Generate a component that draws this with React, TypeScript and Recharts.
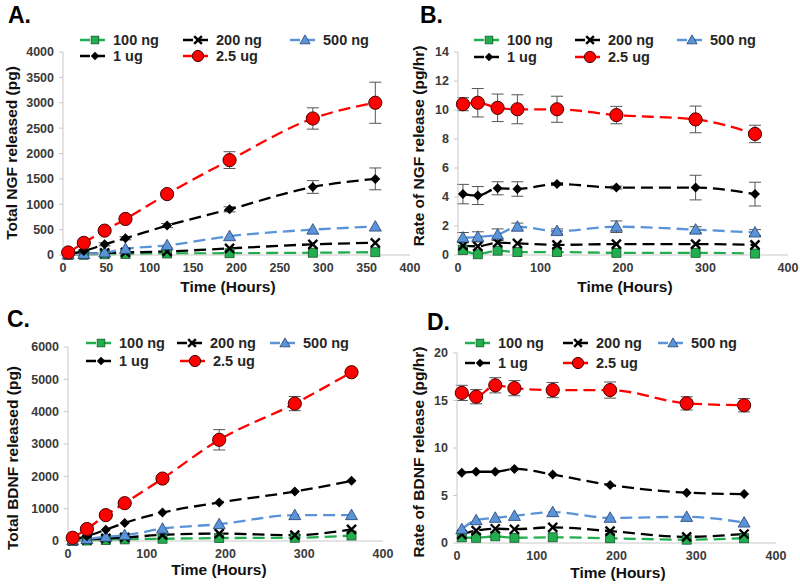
import React from 'react';
import { LineChart, Line, XAxis, YAxis, ErrorBar, Legend } from 'recharts';

// ---------- data ----------
const hours = [6, 24, 48, 72, 120, 192, 288, 360];
const seriesNames = ['100 ng', '200 ng', '500 ng', '1 ug', '2.5 ug'];

// A. Total NGF released (pg)
const ngfTotal100 = [5, 5, 15, 20, 30, 35, 45, 55];
const ngfTotal200 = [10, 20, 40, 50, 70, 130, 210, 240];
const ngfTotal500 = [10, 20, 50, 120, 190, 370, 500, 560];
const ngfTotal1ug = [20, 80, 210, 330, 580, 900, 1340, 1500];
const ngfTotal25ug = [50, 240, 480, 710, 1200, 1870, 2690, 3000];
const ngfTotal1ugErr = [10, 20, 30, 30, 40, 50, 125, 215];
const ngfTotal25ugErr = [20, 30, 40, 50, 60, 165, 210, 405];

// B. Rate of NGF release (pg/hr)
const ngfRate100 = [0.35, 0.05, 0.3, 0.2, 0.2, 0.15, 0.15, 0.1];
const ngfRate200 = [0.65, 0.6, 0.85, 0.8, 0.7, 0.75, 0.75, 0.7];
const ngfRate500 = [1.2, 1.25, 1.4, 1.95, 1.65, 1.95, 1.75, 1.55];
const ngfRate1ug = [4.2, 4.1, 4.6, 4.55, 4.9, 4.65, 4.65, 4.2];
const ngfRate25ug = [10.4, 10.5, 10.15, 10.05, 10.05, 9.65, 9.35, 8.35];
const ngfRate500Err = [0.35, 0.35, 0.4, 0.25, 0.15, 0.4, 0.2, 0.2];
const ngfRate1ugErr = [0.67, 0.62, 0.45, 0.5, 0.1, 0.1, 0.85, 0.82];
const ngfRate25ugErr = [0.45, 0.98, 0.95, 1.0, 0.9, 0.6, 0.92, 0.6];

// C. Total BDNF released (pg)
const bdnfTotal100 = [5, 15, 30, 50, 70, 90, 100, 170];
const bdnfTotal200 = [10, 40, 80, 110, 190, 230, 180, 360];
const bdnfTotal500 = [20, 60, 130, 180, 380, 520, 800, 800];
const bdnfTotal1ug = [40, 150, 350, 560, 880, 1190, 1530, 1860];
const bdnfTotal25ug = [100, 370, 800, 1170, 1930, 3130, 4250, 5220];
const bdnfTotal25ugErr = [20, 40, 50, 60, 70, 315, 220, 50];

// D. Rate of BDNF release (pg/hr)
const bdnfRate100 = [0.6, 0.55, 0.7, 0.55, 0.6, 0.5, 0.35, 0.5];
const bdnfRate200 = [0.9, 1.3, 1.5, 1.45, 1.65, 1.25, 0.65, 0.95];
const bdnfRate500 = [1.45, 2.4, 2.65, 2.85, 3.25, 2.65, 2.75, 2.15];
const bdnfRate1ug = [7.4, 7.5, 7.5, 7.8, 7.2, 6.1, 5.3, 5.15];
const bdnfRate25ug = [15.8, 15.4, 16.6, 16.3, 16.1, 16.1, 14.7, 14.5];
const bdnfRate25ugErr = [0.8, 0.75, 0.8, 0.8, 0.8, 0.85, 0.7, 0.7];

// ---------- styles ----------
const FONT = '"Liberation Sans", Arial, Helvetica, sans-serif';
const styles = [
  { color: '#22ad4e', shape: 'square' },
  { color: '#000000', shape: 'x' },
  { color: '#5b93d8', shape: 'triangle' },
  { color: '#000000', shape: 'diamond' },
  { color: '#ff0000', shape: 'circle' },
];

function Marker({ shape, cx, cy, k = 1 }: any) {
  if (cx == null || cy == null) return null;
  switch (shape) {
    case 'square': {
      const s = 9 * k;
      return <rect x={cx - s / 2} y={cy - s / 2} width={s} height={s} fill="#22ad4e" stroke="#145a2a" strokeWidth={0.8} />;
    }
    case 'x': {
      const s = 4.5 * k;
      return (
        <g stroke="#000" strokeWidth={2.4}>
          <line x1={cx - s} y1={cy - s} x2={cx + s} y2={cy + s} />
          <line x1={cx - s} y1={cy + s} x2={cx + s} y2={cy - s} />
        </g>
      );
    }
    case 'triangle': {
      const s = 6 * k;
      return (
        <polygon
          points={`${cx},${cy - s} ${cx + s},${cy + s * 0.75} ${cx - s},${cy + s * 0.75}`}
          fill="#5b93d8"
          stroke="#22406e"
          strokeWidth={0.8}
        />
      );
    }
    case 'diamond': {
      const s = 5 * k;
      return <polygon points={`${cx},${cy - s} ${cx + s},${cy} ${cx},${cy + s} ${cx - s},${cy}`} fill="#000" />;
    }
    default: {
      const r = 6.6 * k;
      return <circle cx={cx} cy={cy} r={r} fill="#ff0000" stroke="#4a0000" strokeWidth={1} />;
    }
  }
}

type Pos = [number, number];

function LegendBox({ positions }: { positions: Pos[] }) {
  return (
    <div style={{ position: 'relative', width: 0, height: 0 }}>
      {seriesNames.map((name, i) => (
        <div
          key={name}
          style={{
            position: 'absolute',
            left: positions[i][0],
            top: positions[i][1] - 8,
            height: 16,
            display: 'flex',
            alignItems: 'center',
            whiteSpace: 'nowrap',
          }}
        >
          <svg width={31} height={16} style={{ display: 'block' }}>
            <line x1={0} y1={8} x2={30} y2={8} stroke={styles[i].color} strokeWidth={2.4} strokeDasharray="10 5" />
            <Marker shape={styles[i].shape} cx={15} cy={8} k={0.85} />
          </svg>
          <span style={{ fontFamily: FONT, fontWeight: 700, fontSize: 14.5, lineHeight: '15px', color: '#262626', marginLeft: 2 }}>{name}</span>
        </div>
      ))}
    </div>
  );
}

type PanelProps = {
  left: number;
  top: number;
  width: number;
  height: number;
  plotLeft: number;
  plotRight: number;
  plotTop: number;
  plotBottom: number;
  values: number[][];
  errors: (number[] | null)[];
  yDomain: [number, number];
  yTicks: number[];
  xTicks: number[];
  legend: Pos[];
};

function Panel(p: PanelProps) {
  const data = hours.map((t, i) => {
    const row: any = { t };
    p.values.forEach((v, s) => {
      row['s' + s] = v[i];
      const e = p.errors[s];
      if (e) row['e' + s] = e[i];
    });
    return row;
  });
  const tickStyle = { fontFamily: FONT, fontWeight: 700, fontSize: 12.5, fill: '#3a3a3a' };
  const legendPos: Pos[] = p.legend.map(([x, y]) => [x - p.left, y - p.top]);
  return (
    <div style={{ position: 'absolute', left: p.left, top: p.top }}>
      <LineChart
        width={p.width}
        height={p.height}
        data={data}
        margin={{ top: p.plotTop - p.top, right: p.left + p.width - p.plotRight, bottom: 0, left: 0 }}
      >
        <XAxis
          dataKey="t"
          type="number"
          domain={[0, 400]}
          ticks={p.xTicks}
          interval={0}
          height={p.top + p.height - p.plotBottom}
          tickLine={false}
          tickSize={6}
          tickMargin={2}
          axisLine={{ stroke: '#c8c8c8', strokeWidth: 1 }}
          tick={tickStyle}
        />
        <YAxis
          type="number"
          domain={p.yDomain}
          ticks={p.yTicks}
          interval={0}
          width={p.plotLeft - p.left}
          tickSize={4}
          tickMargin={5}
          axisLine={{ stroke: '#c8c8c8', strokeWidth: 1 }}
          tickLine={{ stroke: '#c8c8c8' }}
          tick={tickStyle}
        />
        <Legend
          layout="horizontal"
          verticalAlign="middle"
          align="center"
          wrapperStyle={{ top: 0, left: 0, width: 0, height: 0 }}
          content={() => <LegendBox positions={legendPos} />}
        />
        {p.values.map((_, s) => (
          <Line
            key={s}
            type="monotone"
            dataKey={'s' + s}
            name={seriesNames[s]}
            stroke={styles[s].color}
            strokeWidth={2.3}
            strokeDasharray="12 6"
            isAnimationActive={false}
            dot={(dp: any) => <Marker key={dp.index} shape={styles[s].shape} cx={dp.cx} cy={dp.cy} />}
            activeDot={false}
          >
            {p.errors[s] ? (
              <ErrorBar dataKey={'e' + s} direction="y" width={6} stroke="#555" strokeWidth={1} isAnimationActive={false} />
            ) : null}
          </Line>
        ))}
      </LineChart>
    </div>
  );
}

function Overlay() {
  const t = { fontFamily: FONT, fontWeight: 700 as const, fill: '#111' };
  const yl = (x: number, y: number, s: string) => (
    <text x={x} y={y} transform={`rotate(-90 ${x} ${y})`} textAnchor="middle" dominantBaseline="central" fontSize={15.5} {...t}>
      {s}
    </text>
  );
  const xl = (x: number, y: number) => (
    <text x={x} y={y} textAnchor="middle" dominantBaseline="central" fontSize={15.5} {...t}>
      Time (Hours)
    </text>
  );
  return (
    <svg width={800} height={584} style={{ position: 'absolute', left: 0, top: 0, pointerEvents: 'none' }}>
      <text x={8} y={23} fontSize={23} {...t} fill="#000">A.</text>
      <text x={420} y={23} fontSize={23} {...t} fill="#000">B.</text>
      <text x={7} y={327} fontSize={23} {...t} fill="#000">C.</text>
      <text x={427} y={330} fontSize={23} {...t} fill="#000">D.</text>
      {yl(11, 153, 'Total NGF released (pg)')}
      {yl(418, 146, 'Rate of NGF release (pg/hr)')}
      {yl(12, 458, 'Total BDNF released (pg)')}
      {yl(418, 452, 'Rate of BDNF release (pg/hr)')}
      {xl(228, 286)}
      {xl(625, 286)}
      {xl(219, 569)}
      {xl(618, 572)}
    </svg>
  );
}

export default function App() {
  return (
    <div style={{ position: 'absolute', left: 0, top: 0, width: 800, height: 584, background: '#fff', overflow: 'hidden' }}>
      <Panel
        left={0} top={0} width={430} height={290}
        plotLeft={63} plotRight={410} plotTop={52} plotBottom={255}
        values={[ngfTotal100, ngfTotal200, ngfTotal500, ngfTotal1ug, ngfTotal25ug]}
        errors={[null, null, null, ngfTotal1ugErr, ngfTotal25ugErr]}
        yDomain={[0, 4000]}
        yTicks={[0, 500, 1000, 1500, 2000, 2500, 3000, 3500, 4000]}
        xTicks={[0, 50, 100, 150, 200, 250, 300, 350, 400]}
        legend={[[80, 40], [183, 40], [290, 40], [80, 56], [183, 56]]}
      />
      <Panel
        left={400} top={0} width={400} height={290}
        plotLeft={458} plotRight={788} plotTop={52} plotBottom={255}
        values={[ngfRate100, ngfRate200, ngfRate500, ngfRate1ug, ngfRate25ug]}
        errors={[null, null, ngfRate500Err, ngfRate1ugErr, ngfRate25ugErr]}
        yDomain={[0, 14]}
        yTicks={[0, 2, 4, 6, 8, 10, 12, 14]}
        xTicks={[0, 100, 200, 300, 400]}
        legend={[[474, 40], [575, 40], [677, 40], [474, 57], [575, 57]]}
      />
      <Panel
        left={0} top={290} width={400} height={294}
        plotLeft={68} plotRight={383} plotTop={347} plotBottom={541}
        values={[bdnfTotal100, bdnfTotal200, bdnfTotal500, bdnfTotal1ug, bdnfTotal25ug]}
        errors={[null, null, null, null, bdnfTotal25ugErr]}
        yDomain={[0, 6000]}
        yTicks={[0, 1000, 2000, 3000, 4000, 5000, 6000]}
        xTicks={[0, 100, 200, 300, 400]}
        legend={[[86, 343], [177, 343], [270, 343], [86, 361], [180, 361]]}
      />
      <Panel
        left={400} top={290} width={400} height={294}
        plotLeft={457} plotRight={776} plotTop={353} plotBottom={543}
        values={[bdnfRate100, bdnfRate200, bdnfRate500, bdnfRate1ug, bdnfRate25ug]}
        errors={[null, null, null, null, bdnfRate25ugErr]}
        yDomain={[0, 20]}
        yTicks={[0, 5, 10, 15, 20]}
        xTicks={[0, 100, 200, 300, 400]}
        legend={[[465, 343], [563, 343], [658, 343], [465, 363], [563, 363]]}
      />
      <Overlay />
    </div>
  );
}
